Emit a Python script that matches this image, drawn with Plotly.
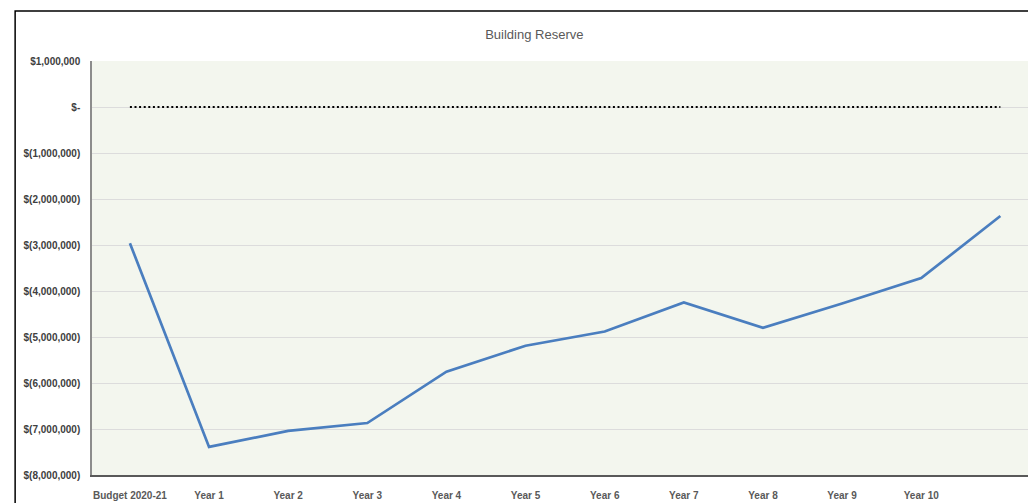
import plotly.graph_objs as go

# categories along the x axis (last one has no label in the picture)
categories = ['Budget 2020-21', 'Year 1', 'Year 2', 'Year 3', 'Year 4', 'Year 5',
              'Year 6', 'Year 7', 'Year 8', 'Year 9', 'Year 10', 'Year 11']
tick_labels = categories[:-1] + ['']

# reserve balance
reserve = [-2960000, -7390000, -7040000, -6870000, -5755000, -5190000,
           -4880000, -4250000, -4800000, -4270000, -3720000, -2370000]
# zero reference line
zero_line = [0] * len(categories)

y_ticks = [1000000, 0, -1000000, -2000000, -3000000, -4000000,
           -5000000, -6000000, -7000000, -8000000]
y_tick_text = ['$1,000,000', '$-', '$(1,000,000)', '$(2,000,000)', '$(3,000,000)',
               '$(4,000,000)', '$(5,000,000)', '$(6,000,000)', '$(7,000,000)',
               '$(8,000,000)']

idx = list(range(len(categories)))

fig = go.Figure()

fig.add_trace(go.Scatter(
    x=idx, y=zero_line, mode='lines',
    line=dict(color='black', width=2.2, dash='2px,2.6px'),
    hoverinfo='skip'
))

fig.add_trace(go.Scatter(
    x=idx, y=reserve, mode='lines',
    line=dict(color='#4a7ebf', width=2.7)
))

# outer chart border
fig.add_shape(type='rect', xref='paper', yref='paper',
              x0=-0.0816, x1=1.02, y0=-0.2, y1=1.1208,
              line=dict(color='black', width=1.5), layer='below')

# page body has an 8px margin, so the figure is 8px smaller than the window
fig.update_layout(
    width=1028, height=495,
    margin=dict(l=84, r=0, t=53, b=28),
    paper_bgcolor='white',
    plot_bgcolor='#f3f6ee',
    showlegend=False,
    title=dict(text='Building Reserve', x=0.512, xref='container', xanchor='center',
               y=0.9475, yref='container', yanchor='middle',
               font=dict(family='Liberation Sans, Arial', size=13, color='#595959')),
    font=dict(family='Liberation Sans, Arial', color='#595959'),
    xaxis=dict(
        tickvals=idx, ticktext=tick_labels,
        range=[-0.479, 11.425],
        showgrid=False, zeroline=False,
        showline=True, linecolor='#595959', linewidth=1.5,
        ticks='', ticklabelstandoff=10,
        tickfont=dict(size=10, color='#595959', weight='bold'),
    ),
    yaxis=dict(
        tickvals=y_ticks, ticktext=y_tick_text,
        range=[-8000000, 1000000],
        showgrid=True, gridcolor='#dcdcdc', gridwidth=1,
        zeroline=False,
        showline=True, linecolor='#8c8c8c', linewidth=1.5, mirror=True,
        ticks='', ticklabelstandoff=8,
        tickfont=dict(size=10, color='#404040', weight='bold'),
    ),
)

# hide scrollbars so the plot runs to the right edge of the window
fig.write_html("out.html", post_script="document.body.style.overflow='hidden';")
